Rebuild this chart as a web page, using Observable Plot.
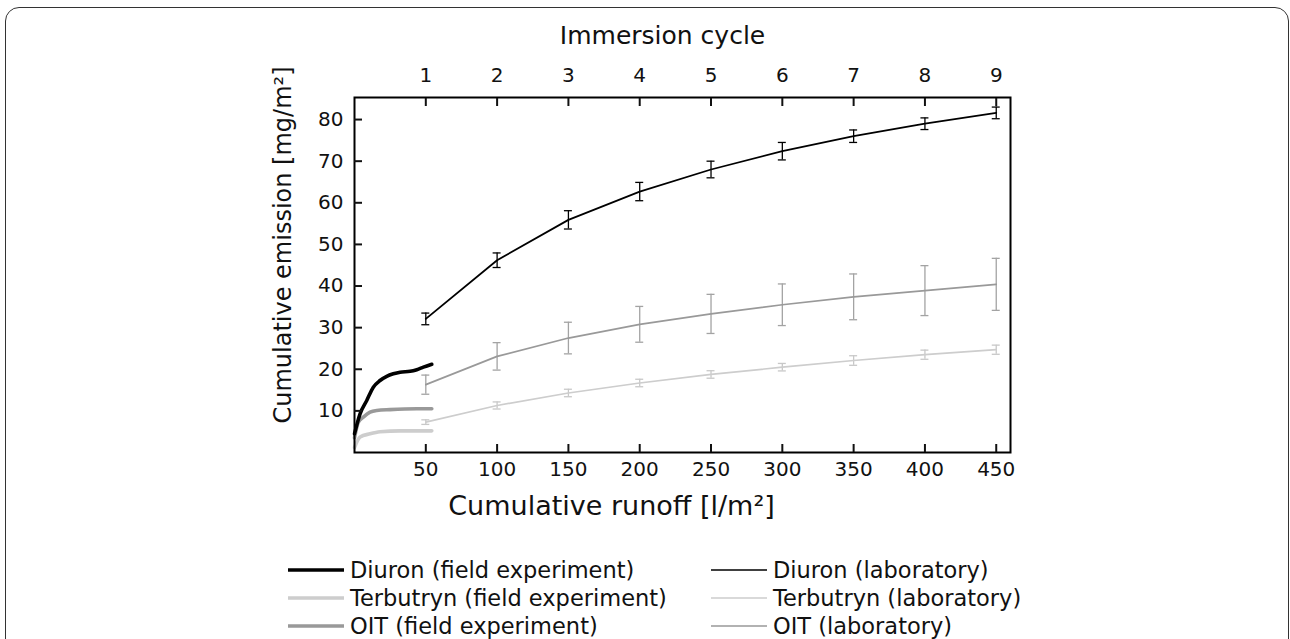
<!DOCTYPE html>
<html>
<head>
<meta charset="utf-8">
<script src="https://cdn.jsdelivr.net/npm/d3@7"></script>
<script src="https://cdn.jsdelivr.net/npm/@observablehq/plot@0.6"></script>
<style>
  html, body { margin: 0; padding: 0; background: #fff; overflow: hidden; width: 1290px; height: 639px; }
  body { position: relative; font-family: "DejaVu Sans", Verdana, sans-serif; }
  #border { position: absolute; left: 5px; top: 7px; width: 1284px; height: 700px; border: 1.6px solid #333; border-radius: 14px; box-sizing: border-box; }
  #chart { position: absolute; left: 0; top: 0; }
  #legend { position: absolute; left: 0; top: 0; width: 1290px; height: 639px; pointer-events: none; }
  .item { position: absolute; display: flex; align-items: center; font-size: 22.5px; color: #111; white-space: nowrap; }
  .item svg { margin-right: 6px; }
</style>
</head>
<body>
<div id="border"></div>
<div id="chart"></div>
<div id="legend"></div>
<script>
// ---- data ----
const runoffTicks = [50, 100, 150, 200, 250, 300, 350, 400, 450];
const cycleLabels = ["1", "2", "3", "4", "5", "6", "7", "8", "9"];
const emissionTicks = [10, 20, 30, 40, 50, 60, 70, 80];

// laboratory (immersion) series
const labRunoff = [50, 100, 150, 200, 250, 300, 350, 400, 450];
const diuronLab = [32.1, 46.2, 55.9, 62.7, 68.0, 72.4, 76.0, 79.0, 81.6];
const diuronLabErr = [1.4, 1.75, 2.2, 2.2, 2.0, 2.1, 1.5, 1.4, 1.4];
const oitLab = [16.3, 23.1, 27.5, 30.8, 33.3, 35.5, 37.4, 38.9, 40.4];
const oitLabErr = [2.3, 3.3, 3.8, 4.3, 4.7, 5.0, 5.5, 6.0, 6.25];
const terbLab = [7.3, 11.3, 14.3, 16.7, 18.75, 20.5, 22.1, 23.5, 24.7];
const terbLabErr = [0.55, 0.85, 0.9, 0.9, 0.9, 0.9, 1.15, 1.1, 1.1];

// field experiment series
const diuronFieldX = [0, 3.9, 8.6, 13.2, 17.9, 22.6, 27.2, 32, 39, 43.7, 48.3, 54.2];
const diuronField = [4.5, 9.3, 12.5, 15.7, 17.3, 18.3, 18.9, 19.3, 19.5, 19.9, 20.5, 21.2];
const oitFieldX = [0, 2.7, 6.2, 10.9, 15.6, 24.9, 43.7, 54.2];
const oitField = [3.5, 7.3, 8.5, 9.7, 10.1, 10.3, 10.5, 10.5];
const terbFieldX = [0, 3.9, 10.9, 17.9, 32, 54.2];
const terbField = [1.2, 3.7, 4.5, 5.0, 5.2, 5.2];

const colors = { diuron: "#000000", terb: "#cdcdcd", oit: "#999999" };
const errColors = { diuron: "#000000", terb: "#c8c8c8", oit: "#a3a3a3" };

const legendItems = [
  { label: "Diuron (field experiment)", color: colors.diuron, width: 3.5, col: 0, row: 0 },
  { label: "Terbutryn (field experiment)", color: colors.terb, width: 3.5, col: 0, row: 1 },
  { label: "OIT (field experiment)", color: colors.oit, width: 3.5, col: 0, row: 2 },
  { label: "Diuron (laboratory)", color: colors.diuron, width: 1.5, col: 1, row: 0 },
  { label: "Terbutryn (laboratory)", color: colors.terb, width: 1.5, col: 1, row: 1 },
  { label: "OIT (laboratory)", color: colors.oit, width: 1.5, col: 1, row: 2 }
];

// ---- build tables ----
const lab = (key, vals, errs) => labRunoff.map((x, i) => ({ key, x, y: vals[i], lo: vals[i] - errs[i], hi: vals[i] + errs[i] }));
const labData = [
  ...lab("oit", oitLab, oitLabErr),
  ...lab("terb", terbLab, terbLabErr),
  ...lab("diuron", diuronLab, diuronLabErr)
];
const field = (key, xs, ys) => xs.map((x, i) => ({ key, x, y: ys[i] }));
const fieldData = [
  ...field("terb", terbFieldX, terbField),
  ...field("oit", oitFieldX, oitField),
  ...field("diuron", diuronFieldX, diuronField)
];
const capHalf = 2.8; // half cap width in runoff units

const font = "DejaVu Sans, Verdana, sans-serif";

const chart = Plot.plot({
  width: 1290,
  height: 530,
  marginLeft: 354,
  marginRight: 280,
  marginTop: 97,
  marginBottom: 78,
  x: { domain: [0, 460] },
  y: { domain: [0, 85.3] },
  style: { fontFamily: font, fontSize: "20px", background: "transparent", color: "#111" },
  marks: [
    // error bars
    ...["oit", "terb", "diuron"].map(k => [
      Plot.ruleX(labData.filter(d => d.key === k), { x: "x", y1: "lo", y2: "hi", stroke: errColors[k], strokeWidth: 1.3 }),
      Plot.ruleY(labData.filter(d => d.key === k), { y: "lo", x1: d => d.x - capHalf, x2: d => d.x + capHalf, stroke: errColors[k], strokeWidth: 1.3 }),
      Plot.ruleY(labData.filter(d => d.key === k), { y: "hi", x1: d => d.x - capHalf, x2: d => d.x + capHalf, stroke: errColors[k], strokeWidth: 1.3 })
    ]),
    // lab lines
    ...["oit", "terb", "diuron"].map(k =>
      Plot.line(labData.filter(d => d.key === k), { x: "x", y: "y", stroke: colors[k], strokeWidth: k === "diuron" ? 1.8 : 1.7 })
    ),
    // field lines
    ...["terb", "oit", "diuron"].map(k =>
      Plot.line(fieldData.filter(d => d.key === k), { x: "x", y: "y", stroke: colors[k], strokeWidth: 3.6, curve: "monotone-x", strokeLinecap: "round" })
    ),
    // frame
    Plot.frame({ stroke: "#000", strokeWidth: 2 }),
    // bottom axis
    Plot.axisX(runoffTicks, { anchor: "bottom", tickSize: -8, strokeWidth: 2, tickFormat: () => "", label: null }),
    Plot.axisX(runoffTicks, { anchor: "bottom", tickSize: 0, tickPadding: 9, fontSize: 20, label: null, tickFormat: d => String(d) }),
    // top axis (immersion cycle)
    Plot.axisX(runoffTicks, { anchor: "top", tickSize: -8, strokeWidth: 2, tickFormat: () => "", label: null }),
    Plot.axisX(runoffTicks, { anchor: "top", tickSize: 0, tickPadding: 16, fontSize: 20, label: null, tickFormat: d => cycleLabels[runoffTicks.indexOf(d)] }),
    // left axis
    Plot.axisY(emissionTicks, { anchor: "left", tickSize: -8, strokeWidth: 2, tickFormat: () => "", label: null }),
    Plot.axisY(emissionTicks, { anchor: "left", tickSize: 0, tickPadding: 11, fontSize: 20, label: null, tickFormat: d => String(d) }),
    // axis titles
    Plot.text(["Immersion cycle"], { frameAnchor: "top", textAnchor: "middle", lineAnchor: "middle", text: d => d, dy: -62, dx: -20, fontSize: 25, fill: "#111" }),
    Plot.text(["Cumulative runoff [l/m²]"], { frameAnchor: "bottom", textAnchor: "middle", lineAnchor: "middle", text: d => d, dy: 54, dx: -71, fontSize: 27, fill: "#111" }),
    Plot.text(["Cumulative emission [mg/m²]"], { frameAnchor: "left", textAnchor: "middle", lineAnchor: "middle", text: d => d, rotate: -90, dx: -71, dy: -30, fontSize: 24, fill: "#111" })
  ]
});
document.getElementById("chart").appendChild(chart);

// ---- legend ----
const legend = document.getElementById("legend");
const colX = [288, 711];
const rowY = [570, 598, 626];
for (const it of legendItems) {
  const div = document.createElement("div");
  div.className = "item";
  div.style.left = colX[it.col] + "px";
  div.style.top = (rowY[it.row] - 14) + "px";
  div.style.height = "28px";
  div.innerHTML = `<svg width="56" height="10"><line x1="0" y1="5" x2="56" y2="5" stroke="${it.color}" stroke-width="${it.width}"/></svg><span>${it.label}</span>`;
  legend.appendChild(div);
}
</script>
</body>
</html>
